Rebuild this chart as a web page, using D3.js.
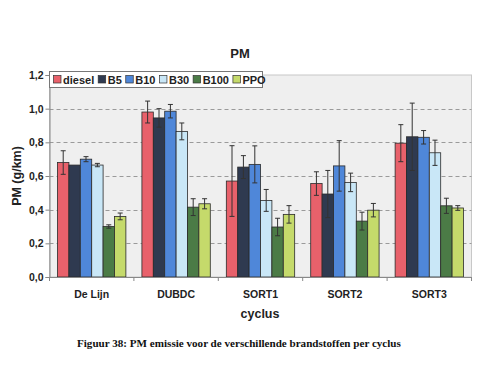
<!DOCTYPE html>
<html><head><meta charset="utf-8">
<script src="https://cdn.jsdelivr.net/npm/d3@7"></script>
<style>body{margin:0;background:#fff}</style>
</head><body>
<svg id="c" width="504" height="391"></svg>
<script>
const categories = ["De Lijn", "DUBDC", "SORT1", "SORT2", "SORT3"];
const seriesNames = ["diesel", "B5", "B10", "B30", "B100", "PPO"];
const seriesColors = ["#e8616b", "#2f3a50", "#4f87d9", "#c9e7f7", "#4b7b46", "#c5da6b"];
const diesel = [0.68, 0.98, 0.57, 0.555, 0.795];
const B5 = [0.665, 0.945, 0.653, 0.493, 0.833];
const B10 = [0.70, 0.985, 0.669, 0.66, 0.83];
const B30 = [0.665, 0.865, 0.455, 0.562, 0.738];
const B100 = [0.30, 0.415, 0.297, 0.332, 0.423];
const PPO = [0.36, 0.435, 0.372, 0.397, 0.41];
const errDiesel = [0.07, 0.065, 0.21, 0.07, 0.11];
const errB5 = [0.0, 0.055, 0.068, 0.14, 0.2];
const errB10 = [0.015, 0.04, 0.11, 0.15, 0.04];
const errB30 = [0.01, 0.05, 0.065, 0.055, 0.075];
const errB100 = [0.01, 0.05, 0.052, 0.053, 0.045];
const errPPO = [0.02, 0.03, 0.052, 0.04, 0.014];
const yTicks = [0, 0.2, 0.4, 0.6, 0.8, 1.0, 1.2];

const values = [diesel, B5, B10, B30, B100, PPO];
const errors = [errDiesel, errB5, errB10, errB30, errB100, errPPO];

const svg = d3.select("#c");
const L = 49.5, R = 471.5, T = 75, B = 277;
const x0 = d3.scaleBand().domain(categories).range([L, R]).padding(0);
const bw = x0.bandwidth();
const pad = bw * 0.095;
const x1 = d3.scaleBand().domain(seriesNames).range([pad, bw - pad]).padding(0);
const y = d3.scaleLinear().domain([0, 1.2]).range([B, T]);

// plot background
svg.append("rect").attr("x", L).attr("y", T).attr("width", R - L).attr("height", B - T)
  .attr("fill", "#efefef").attr("stroke", "#c8c8c8").attr("stroke-width", 1);

// gridlines
svg.append("g").selectAll("line").data(yTicks.filter(d => d > 0 && d < 1.2)).join("line")
  .attr("x1", L).attr("x2", R).attr("y1", d => Math.round(y(d)) + 0.5).attr("y2", d => Math.round(y(d)) + 0.5)
  .attr("stroke", "#9a9a9a").attr("stroke-dasharray", "4,3").attr("stroke-width", 1);

// bars
const data = [];
categories.forEach((c, i) => seriesNames.forEach((s, j) => data.push({c, s, v: values[j][i], e: errors[j][i], col: seriesColors[j]})));
const g = svg.append("g");
g.selectAll("rect").data(data).join("rect")
  .attr("x", d => x0(d.c) + x1(d.s))
  .attr("y", d => y(d.v))
  .attr("width", x1.bandwidth())
  .attr("height", d => y(0) - y(d.v))
  .attr("fill", d => d.col).attr("stroke", "#2a2a2a").attr("stroke-width", 0.8);

// error bars
const eg = svg.append("g").attr("stroke", "#333").attr("stroke-width", 1);
data.filter(d => d.e > 0).forEach(d => {
  const cx = x0(d.c) + x1(d.s) + x1.bandwidth() / 2;
  eg.append("line").attr("x1", cx).attr("x2", cx).attr("y1", y(d.v + d.e)).attr("y2", y(d.v - d.e));
  eg.append("line").attr("x1", cx - 2.5).attr("x2", cx + 2.5).attr("y1", y(d.v + d.e)).attr("y2", y(d.v + d.e));
  eg.append("line").attr("x1", cx - 2.5).attr("x2", cx + 2.5).attr("y1", y(d.v - d.e)).attr("y2", y(d.v - d.e));
});

// y axis
const yAxis = d3.axisLeft(y).tickValues(yTicks).tickSize(4).tickFormat(d => d3.format(".1f")(d).replace(".", ","));
const ya = svg.append("g").attr("transform", `translate(${L},0)`).call(yAxis);
ya.select(".domain").attr("stroke", "#888");
ya.selectAll(".tick line").attr("stroke", "#888");
ya.selectAll("text").attr("font-family", "Arial, Liberation Sans, sans-serif").attr("font-weight", "bold")
  .attr("font-size", 10.5).attr("fill", "#222").attr("x", -6);

// x axis
const xa = svg.append("g").attr("transform", `translate(0,${B})`);
xa.append("line").attr("x1", L).attr("x2", R).attr("y1", 0.5).attr("y2", 0.5).attr("stroke", "#888");
const bounds = categories.map(c => x0(c)).concat([R]);
xa.selectAll("line.t").data(bounds).join("line").attr("class", "t")
  .attr("x1", d => d).attr("x2", d => d).attr("y1", 0).attr("y2", 4).attr("stroke", "#888");
xa.selectAll("text").data(categories).join("text")
  .attr("x", d => x0(d) + bw / 2).attr("y", 21).attr("text-anchor", "middle")
  .attr("font-family", "Arial, Liberation Sans, sans-serif").attr("font-weight", "bold")
  .attr("font-size", 10.5).attr("fill", "#222").text(d => d);

// titles
svg.append("text").attr("x", 240).attr("y", 58).attr("text-anchor", "middle")
  .attr("font-family", "Arial, Liberation Sans, sans-serif").attr("font-weight", "bold").attr("font-size", 13).attr("fill", "#222").text("PM");
svg.append("text").attr("x", 260).attr("y", 318).attr("text-anchor", "middle")
  .attr("font-family", "Arial, Liberation Sans, sans-serif").attr("font-weight", "bold").attr("font-size", 12.5).attr("fill", "#222").text("cyclus");
svg.append("text").attr("transform", `translate(21,${(T + B) / 2}) rotate(-90)`).attr("text-anchor", "middle")
  .attr("font-family", "Arial, Liberation Sans, sans-serif").attr("font-weight", "bold").attr("font-size", 12.5).attr("fill", "#222").text("PM (g/km)");

// legend
const lg = svg.append("g").attr("transform", "translate(49.5,71.5)");
lg.append("rect").attr("width", 213).attr("height", 16).attr("fill", "#fff").attr("stroke", "#777");
let lx = 4;
seriesNames.forEach((s, j) => {
  lg.append("rect").attr("x", lx).attr("y", 4).attr("width", 7.5).attr("height", 7.5)
    .attr("fill", seriesColors[j]).attr("stroke", "#333").attr("stroke-width", 0.7);
  const t = lg.append("text").attr("x", lx + 9.5).attr("y", 12).attr("font-family", "Arial, Liberation Sans, sans-serif")
    .attr("font-weight", "bold").attr("font-size", 11).attr("fill", "#222").text(s);
  lx += 9.5 + t.node().getComputedTextLength() + 4;
});

// caption
svg.append("text").attr("x", 77).attr("y", 347)
  .attr("font-family", "Liberation Serif, Times New Roman, serif").attr("font-weight", "bold").attr("font-size", 11.1).attr("fill", "#111")
  .text("Figuur 38: PM emissie voor de verschillende brandstoffen per cyclus");
</script>
</body></html>
